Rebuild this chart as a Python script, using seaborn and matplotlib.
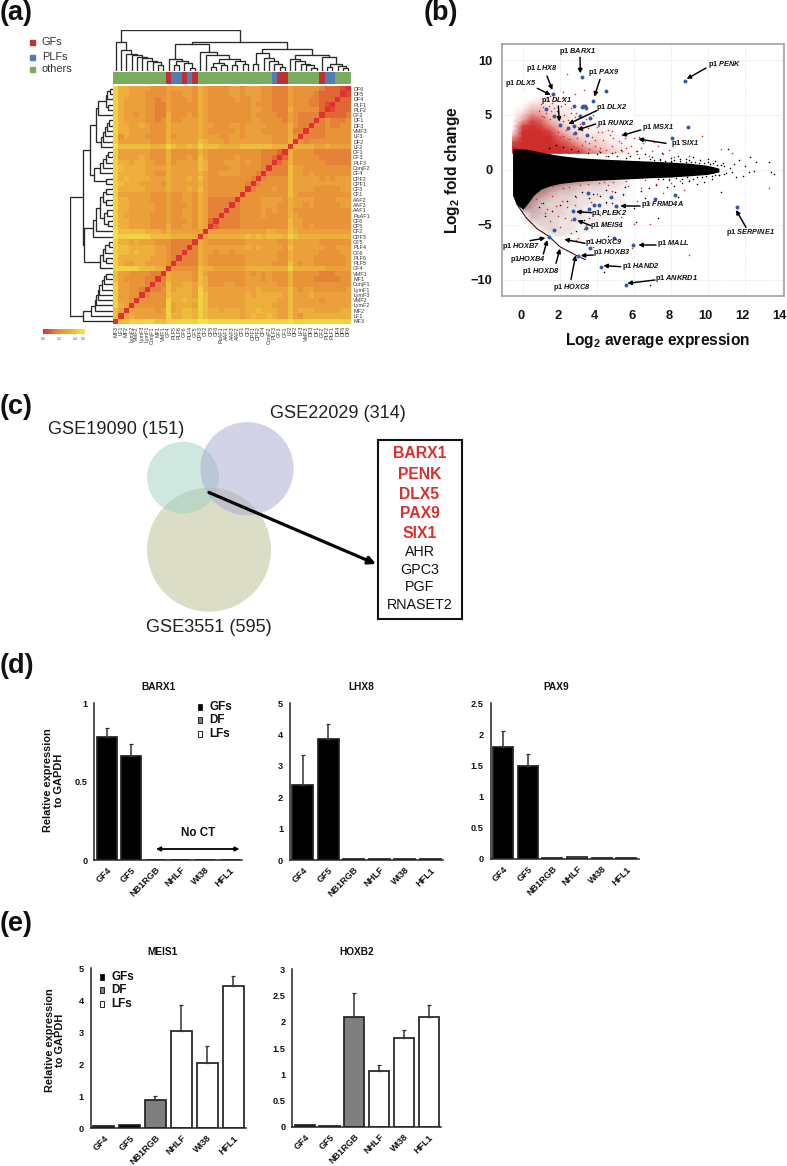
import numpy as np
import pandas as pd
import matplotlib
matplotlib.use('Agg')
import matplotlib.pyplot as plt
from matplotlib.colors import LinearSegmentedColormap, ListedColormap
from matplotlib.patches import Circle, Rectangle
from matplotlib.transforms import ScaledTranslation
import seaborn as sns

sns.set_theme(style='white')
plt.rcParams['font.family'] = ['Liberation Sans', 'DejaVu Sans']
plt.rcParams['mathtext.fontset'] = 'custom'
plt.rcParams['mathtext.bf'] = 'Liberation Sans:bold'
plt.rcParams['mathtext.bfit'] = 'Liberation Sans:italic:bold'
plt.rcParams['mathtext.rm'] = 'Liberation Sans'

W, H = 787, 1166

# ---- panel a data ----
samples = ['MF3', 'LF1', 'MF2', 'LymF2', 'VMF2', 'LymF3', 'LymF1', 'ConjF1', 'MF1', 'VMF1',
           'GF4', 'PLF5', 'PLF6', 'GF6', 'PLF4', 'GF5', 'CPF3', 'CF2', 'CF5', 'CF6', 'PuAF1',
           'AAF1', 'AAF3', 'AAF2', 'CF1', 'CF3', 'CPF1', 'CPF2', 'CF4', 'ConjF2', 'PLF3', 'GF3',
           'GF1', 'LF2', 'DF2', 'LF3', 'VMF3', 'DF3', 'DF1', 'GF2', 'PLF2', 'PLF1', 'DF4', 'DF5', 'DF6']

# upper triangle of the distance heatmap, read as colour levels (0 red .. 9 yellow)
dist_levels = [
    '778888877 888888 99 888888888888 888 9 888888 88888',
    '56555555 866776 87 666666567667 655 7 546666 66666',
    '5555545 856776 87 665666566766 655 7 566655 55566',
    '444444 856665 87 555555566666 555 7 555555 55555',
    '44444 866766 87 555555566666 655 7 555554 55555',
    '3444 766665 87 555555565666 665 7 555655 55555',
    '334 756665 86 555555555655 555 7 545544 44445',
    '33 755665 76 444554455555 544 6 444444 44444',
    '3 655554 76 444444455545 444 6 444433 33344',
    '655554 75 444444454545 444 6 444443 33444',
    '44444 76 655555566666 666 8 666666 55555',
    '3333 65 444444455555 444 7 545544 44445',
    '333 65 444444455555 544 6 555544 44445',
    '33 65 545545555555 544 6 555554 44455',
    '3 65 555555565655 554 7 555555 44555',
    '65 444444455555 544 6 555554 44444',
    '5 666666676767 776 8 766666 66666',
    '555555555556 655 7 655555 55555',
    '23333444444 444 7 554544 44444',
    '3333444444 444 7 554444 44444',
    '333444454 444 6 544444 44444',
    '33444454 544 6 444444 44444',
    '3444455 544 6 554544 44455',
    '444455 554 6 555544 44555',
    '44444 444 7 544444 44444',
    '3444 544 7 555544 44455',
    '344 444 7 555555 55555',
    '34 444 7 555554 54555',
    '3 333 7 554544 44444',
    '333 7 554444 44444',
    '23 6 444444 33333',
    '2 6 444443 33333',
    '6 444433 33333',
    '666655 65555',
    '43444 44444',
    '3333 44444',
    '333 44444',
    '33 43344',
    '3 43334',
    '22223',
    '1222',
    '222',
    '22',
    '1',
]

tree_low = ('29', 'MF3', ('21', 'LF1', ('17.5', 'MF2', ('16.5', 'LymF2', ('14.5', 'VMF2', ('13', 'LymF3',
            ('10.5', 'LymF1', ('9', 'ConjF1', ('6.5', 'MF1', 'VMF1')))))))))
tree_gf = ('12', 'GF4', ('10', ('6.5', 'PLF5', 'PLF6'), ('8', 'GF6', ('3.5', 'PLF4', 'GF5'))))
tree_cf = ('19.3', 'CPF3', ('16', 'CF2', ('12.5', ('8.5', ('4.5', 'CF5', 'CF6'), ('6', 'PuAF1', 'AAF1')),
                                          ('10', ('6.5', 'AAF3', 'AAF2'), ('7', 'CF1', 'CF3')))))
tree_mid = ('17.7', ('7', 'CPF1', 'CPF2'),
            ('12.7', 'CF4', ('10', 'ConjF2', ('7', 'PLF3', ('4.5', 'GF3', 'GF1')))))
tree_df = ('16', ('11.7', 'LF2', ('10', 'DF2', ('7.5', 'LF3', ('6', 'VMF3', ('3.5', 'DF3', 'DF1'))))),
           ('14.5', 'GF2', ('7', ('4.5', 'PLF2', 'PLF1'), ('5.5', 'DF4', ('3', 'DF5', 'DF6')))))
tree = ('41', tree_low, ('29', ('27.3', tree_gf, tree_cf), ('21.7', tree_mid, tree_df)))

# ---- panel b data: envelope of the black band, density of the red cloud, single dots ----
black_x = [-0.55, -0.3, 0, 0.3, 0.6, 1, 1.5, 2, 3, 4, 5, 6, 7, 8, 9, 10, 10.6]
black_top = [1.95, 1.95, 1.9, 1.85, 1.75, 1.6, 1.45, 1.3, 1.1, 1.0, 0.92, 0.85, 0.78, 0.7, 0.6, 0.4, 0.15]
black_bot = [-2.3, -3.2, -3.6, -3.0, -2.3, -1.75, -1.45, -1.25, -1.05, -0.95, -0.88, -0.8, -0.72, -0.66, -0.55, -0.42, -0.2]
floor_x = [-0.5, -0.3, 0, 0.2, 0.76, 1.44, 2, 2.97, 3.4]
floor_y = [-2.3, -3.2, -3.9, -4.4, -5.35, -6.1, -7.0, -7.87, -8.2]

up_x = [-0.55, 0, 0.5, 1, 1.5, 2, 2.5, 3, 3.5, 4, 4.5, 5, 6]
up_y = [7, 6.5, 6, 5.5, 5, 4.5, 4, 3.5, 3, 2.5, 2, 1.5]
up_density = [
    [0, 0, 0, 0, 0, 0, 0, 0, 0, 0, 0, 0, 0],
    [0, 0, 0, 1, 1, 0, 0, 0, 0, 0, 0, 0, 0],
    [0, 0, 2, 2, 1, 1, 0, 0, 0, 0, 0, 0, 0],
    [0, 1, 4, 4, 2, 1, 1, 0, 0, 0, 0, 0, 0],
    [0, 3, 6, 5, 3, 2, 1, 1, 0, 0, 0, 0, 0],
    [0, 5, 8, 7, 4, 3, 1, 1, 1, 0, 0, 0, 0],
    [0, 8, 9, 8, 6, 4, 2, 1, 1, 1, 0, 0, 0],
    [1, 9, 9, 9, 8, 5, 3, 2, 1, 1, 1, 0, 0],
    [5, 9, 9, 9, 9, 7, 5, 3, 2, 2, 1, 1, 0],
    [8, 9, 9, 9, 9, 8, 7, 5, 3, 3, 2, 1, 0],
    [9, 9, 9, 9, 9, 9, 8, 7, 5, 4, 3, 2, 0],
    [9, 9, 9, 9, 9, 9, 9, 9, 7, 6, 4, 3, 0],
]
low_x = [0, 0.5, 1, 1.5, 2, 2.5, 3, 3.5, 4, 4.5, 5, 6]
low_y = [-1, -1.5, -2, -2.5, -3, -3.5, -4, -4.5, -5, -5.5, -6]
low_density = [
    [9, 9, 9, 9, 9, 9, 8, 6, 5, 4, 3, 0],
    [9, 9, 9, 8, 7, 5, 4, 3, 3, 2, 2, 0],
    [9, 9, 8, 6, 4, 4, 3, 2, 2, 2, 1, 0],
    [9, 8, 6, 4, 3, 3, 2, 2, 2, 1, 1, 0],
    [9, 7, 4, 3, 3, 3, 2, 2, 1, 1, 1, 0],
    [9, 6, 4, 3, 3, 2, 2, 1, 1, 1, 1, 0],
    [0, 5, 4, 3, 3, 2, 2, 1, 1, 1, 0, 0],
    [0, 4, 3, 3, 2, 2, 2, 1, 1, 0, 0, 0],
    [0, 1, 3, 3, 2, 2, 1, 1, 1, 0, 0, 0],
    [0, 0, 1, 3, 2, 2, 1, 1, 0, 0, 0, 0],
    [0, 0, 0, 1, 2, 1, 1, 0, 0, 0, 0, 0],
]

red_dots_x = [0.9, 1.0, 1.1, 1.2, 1.3, 1.4, 1.5, 1.6, 1.05, 1.25, 1.55, 1.7, 1.15, 1.45, 1.65, 1.85, 1.95, 2.05, 2.15, 2.25,
              2.35, 2.45, 2.6, 2.7, 2.85, 2.95, 3.1, 3.2, 3.35, 3.5, 3.6, 3.75, 3.9, 4.05, 4.2, 4.35, 4.5, 4.7, 4.85, 5.0,
              5.2, 5.35, 5.5, 5.7, 5.85, 6.0, 6.2, 6.4, 6.6, 6.8, 7.0, 7.3, 7.6, 7.9, 8.2, 8.6, 9.0, 9.7, 10.7, 11.3,
              1.8, 2.1, 2.3, 2.6, 2.9, 3.1, 3.4, 3.7, 4.0, 4.3, 4.6, 4.9, 5.3, 5.6, 6.1, 6.5, 2.2, 2.4, 2.8, 3.3,
              3.8, 4.4, 4.8, 5.5, 6.3, 7.1, 2.2, 3.0, 3.2, 2.5, 1.9, 2.0, 3.6, 4.1, 3.9, 2.7, 13.3, 4.5,
              0.7, 1.0, 1.3, 1.6, 1.9, 2.1, 2.4, 2.6, 2.9, 3.2, 3.4, 3.7, 4.0, 4.2, 4.5, 4.8, 5.1, 5.4, 5.7, 6.0,
              6.4, 6.8, 7.2, 7.6, 8.0, 8.5, 9.0, 1.2, 1.5, 1.8, 2.0, 2.3, 2.6, 2.8, 3.0, 3.3, 3.6, 3.9, 4.3, 4.6,
              5.0, 5.3, 6.2, 6.9, 8.7, 2.2, 2.5, 3.1, 3.5, 4.1, 4.4, 4.9, 5.6, 6.6, 7.9, 1.6, 2.9, 3.8, 5.9, 9.0]
red_dots_y = [5.4, 6.0, 5.7, 6.4, 6.6, 5.8, 6.7, 6.1, 4.9, 5.2, 5.4, 5.6, 4.8, 4.6, 4.9, 5.4, 4.6, 5.8, 4.4, 5.0,
              3.6, 4.5, 5.2, 3.3, 4.8, 2.9, 4.2, 3.6, 2.6, 3.8, 2.4, 3.0, 2.2, 3.4, 2.0, 2.7, 1.8, 3.2, 2.2, 1.6,
              2.6, 1.7, 3.3, 1.5, 2.2, 2.9, 1.4, 2.0, 2.6, 1.3, 1.7, 2.2, 1.4, 1.8, 1.2, 2.7, 1.3, 3.1, 1.9, 1.5,
              6.4, 6.5, 6.0, 5.6, 5.2, 5.0, 4.6, 4.1, 3.9, 3.4, 3.6, 2.9, 2.4, 2.0, 1.7, 2.4, 7.1, 8.7, 6.9, 7.3,
              5.0, 4.3, 3.5, 2.9, 3.0, 2.5, 3.1, 3.9, 2.3, 2.8, 3.4, 3.0, 1.9, 1.7, 2.7, 2.2, -1.7, 1.3,
              -2.7, -3.0, -3.6, -2.4, -4.2, -2.8, -3.4, -4.6, -2.5, -3.8, -5.0, -2.9, -2.2, -4.1, -3.0, -1.9, -3.4, -2.3, -1.5, -4.9,
              -1.7, -3.0, -1.3, -2.1, -1.2, -1.0, -0.9, -3.9, -4.7, -3.3, -5.2, -4.4, -5.8, -3.2, -6.2, -5.4, -4.4, -6.6, -5.0, -1.4,
              -6.3, -4.3, -2.8, -4.9, -1.8, -1.7, -1.6, -1.4, -1.3, -1.2, -1.1, -1.1, -1.0, -0.9, -0.8, -1.5, -6.4, -7.0, -7.1, -7.8]
black_dots_x = [4.2, 4.8, 5.3, 5.8, 6.2, 6.6, 7.0, 7.5, 8.0, 8.4, 8.8, 9.2, 9.6, 10.0, 10.4, 10.8, 11.1, 11.4, 11.7, 12.0, 12.3, 12.6, 13.3, 13.4, 13.6,
                10.2, 10.6, 11.0, 11.5, 11.9, 12.2, 12.5, 9.8, 9.4, 9.0, 8.6, 8.2, 7.8, 7.2, 6.8, 6.4, 5.5, 5.0, 4.5, 3.8,
                10.0, 9.6, 9.0, 8.5, 8.0, 7.4, 6.9, 6.3, 5.6, 5.1, 4.6, 4.0, 3.5, 3.0, 2.6, 2.2, 1.8, 1.4, 1.1, 0.9,
                3.2, 2.8, 2.4, 2.0, 1.6, 1.2, 3.6, 4.2, 4.8, 5.4, 6.0, 6.6, 7.3, 8.4, 4.6, 5.2, 3.3, 2.9, 6.9, 4.4, 6.1, 10.7, 3.6, 4.5,
                7.1, 7.4, 7.7, 8.0, 8.2, 8.5, 8.8, 9.1, 9.3, 9.5, 9.8, 10.1, 10.3, 10.5, 10.7, 10.9, 11.2, 7.3, 7.6, 7.9, 8.3, 8.6, 8.9, 9.2, 9.4, 9.7, 9.9, 10.2, 10.4, 10.6, 10.9, 11.3]
black_dots_y = [1.6, 1.5, 1.8, 1.3, 1.7, 1.4, 1.2, 1.5, 1.1, 1.3, 1.0, 1.2, 0.9, 1.0, 0.8, 0.6, 1.9, 0.5, 0.9, 0.3, 1.2, 0.7, 0.7, -0.2, -0.4,
                -0.8, -0.5, -0.3, -0.7, -0.6, -0.2, -0.1, -1.1, -1.3, -1.0, -1.2, -1.5, -1.6, -1.4, -1.7, -1.9, -1.6, -2.0, -1.8, -2.2,
                0.7, 0.9, 0.85, 1.0, 0.8, 0.95, 1.0, 1.05, 1.1, 1.25, 1.3, 1.4, 1.5, 1.7, 1.9, 2.1, 2.3, 2.0, -3.0, -3.4,
                -2.0, -2.4, -2.8, -3.2, -3.8, -4.2, -2.6, -2.4, -3.0, -2.2, -3.5, -2.6, -4.4, -2.5, -6.0, -4.9, -4.6, -5.6, -10.5, -9.3, -4.8, -2.0, -6.4, -2.9,
                0.85, 0.9, 0.8, 0.75, 0.85, 0.8, 0.75, 0.7, 0.75, 0.6, 0.65, 0.5, 0.6, 0.4, 0.45, 0.3, 0.2, -0.85, -0.8, -0.9, -0.75, -0.85, -0.7, -0.8, -0.65, -0.7, -0.6, -0.6, -0.45, -0.5, -0.35, -0.2]
blue_x = [3.19, 8.77, 1.66, 4.5, 3.78, 2.77, 1.28, 3.25, 3.35, 3.4, 3.2, 1.71, 3.12, 3.62, 2.02, 2.47, 2.76, 3.24, 2.83, 3.48, 8.92, 8.04,
          3.53, 4.79, 7.12, 8.23, 3.87, 4.13, 5.06, 3.59, 2.72, 2.77, 3.42, 1.69, 11.57, 1.44, 4.92, 3.66, 5.96, 2.97, 4.22, 5.57]
blue_y = [8.48, 8.08, 6.87, 7.14, 6.26, 5.8, 5.5, 5.85, 5.8, 5.6, 5.7, 4.92, 4.92, 4.68, 4.07, 3.77, 3.95, 4.22, 3.37, 3.19, 3.92, 2.86,
          -2.1, -2.46, -2.7, -2.31, -3.19, -3.22, -3.31, -3.53, -3.8, -4.53, -5.35, -5.5, -3.4, -6.11, -6.23, -7.11, -6.87, -7.87, -8.84, -10.52]

# gene label, label centre, arrow tail, arrow head (positions in 3x crop pixels of panel b)
gene_notes = [
    ('p1 ', 'BARX1', (472, 155), (480, 172), (481, 220)), ('p1 ', 'LHX8', (366, 204), (381, 228), (397, 270)),
    ('p1 ', 'PAX9', (552, 218), (540, 238), (523, 290)), ('p1 ', 'DLX5', (302, 251), (352, 265), (392, 285)),
    ('p1 ', 'DLX1', (411, 303), (415, 318), (418, 365)), ('p1 ', 'DLX2', (575, 323), (530, 332), (445, 372)),
    ('p1 ', 'RUNX2', (587, 371), (527, 372), (472, 390)), ('p1 ', 'MSX1', (714, 383), (662, 390), (604, 407)),
    ('p1 ', 'SIX1', (796, 431), (738, 430), (655, 417)), ('p1 ', 'PENK', (913, 194), (858, 204), (800, 237)),
    ('p1 ', 'FRMD4A', (728, 613), (660, 618), (601, 618)), ('p1 ', 'PLEK2', (569, 640), (515, 638), (468, 635)),
    ('p1 ', 'MEIS1', (563, 677), (513, 677), (472, 661)), ('p1 ', 'SERPINE1', (991, 698), (978, 682), (948, 630)),
    ('p1 ', 'HOXB7', (305, 741), (330, 722), (376, 714)), ('p1 ', 'HOXC9', (553, 727), (495, 730), (433, 718)),
    ('p1 ', 'MALL', (760, 731), (708, 735), (655, 735)), ('p1', 'HOXB4', (325, 778), (370, 762), (382, 720)),
    ('p1 ', 'HOXB3', (576, 759), (520, 765), (482, 767)), ('p1 ', 'HOXD8', (364, 814), (408, 790), (420, 746)),
    ('p1 ', 'HAND2', (664, 799), (602, 800), (550, 797)), ('p1 ', 'HOXC8', (456, 862), (453, 838), (467, 766)),
    ('p1 ', 'ANKRD1', (770, 836), (705, 840), (622, 850)),
]

# ---- panel c data ----
overlap_genes = ['BARX1', 'PENK', 'DLX5', 'PAX9', 'SIX1', 'AHR', 'GPC3', 'PGF', 'RNASET2']
overlap_red = 5

# ---- panels d, e data ----
lines = ['GF4', 'GF5', 'NB1RGB', 'NHLF', 'WI38', 'HFL1']
line_colors = ['#000000', '#000000', '#7f7f80', '#ffffff', '#ffffff', '#ffffff']
barx1_vals = [0.785, 0.665, 0, 0, 0, 0]
barx1_tops = [0.845, 0.74, 0, 0, 0, 0]
lhx8_vals = [2.4, 3.85, 0.03, 0.03, 0.02, 0.02]
lhx8_tops = [3.35, 4.35, 0, 0, 0, 0]
pax9_vals = [1.8, 1.5, 0.02, 0.03, 0.02, 0.02]
pax9_tops = [2.05, 1.68, 0, 0, 0, 0]
meis1_vals = [0.06, 0.08, 0.87, 3.05, 2.05, 4.45]
meis1_tops = [0, 0, 1.0, 3.85, 2.58, 4.75]
hoxb2_vals = [0.03, 0.02, 2.1, 1.06, 1.7, 2.1]
hoxb2_tops = [0, 0, 2.55, 1.17, 1.85, 2.32]

fig = plt.figure(figsize=(W / 100, H / 100), dpi=100)


def px_axes(left, top, right, bottom):
    return fig.add_axes([left / W, 1 - bottom / H, (right - left) / W, (bottom - top) / H])


# overlay in pixel coordinates for panel letters, notes and the venn diagram
ov = px_axes(0, 0, W, H)
ov.set_xlim(0, W)
ov.set_ylim(H, 0)
ov.axis('off')
ov.set_zorder(10)
ov.patch.set_alpha(0)

for letter, lx, ly in [('(a)', 0, 13), ('(b)', 424, 13), ('(c)', 0, 407), ('(d)', 0, 666), ('(e)', 0, 924)]:
    ov.text(lx, ly, letter, fontsize=19.5, fontweight='bold', va='center', ha='left', color='#111111')

# ---- panel a ----
level_colors = ['#de3230', '#de4a30', '#e26a34', '#e68539', '#ea9639', '#eca33b', '#edb23d', '#efc23f', '#f0da45', '#f2ea4b']
dist_cmap = LinearSegmentedColormap.from_list('dist', level_colors)
dist = np.zeros((45, 45))
for i, row in enumerate(dist_levels):
    vals = [int(c) for c in row.replace(' ', '')]
    assert len(vals) == 44 - i, (i, len(vals))
    dist[i, i + 1:] = vals
dist = (dist + dist.T) * 0.055

hm = px_axes(113, 86, 351, 324)
cb = px_axes(43, 329, 85, 334)
sns.heatmap(pd.DataFrame(dist[::-1], index=samples[::-1], columns=samples), ax=hm, cmap=dist_cmap, vmin=0, vmax=0.52,
            cbar_ax=cb, cbar_kws={'orientation': 'horizontal', 'ticks': [0, 0.2, 0.4, 0.5]},
            xticklabels=True, yticklabels=True)
hm.yaxis.tick_right()
hm.tick_params(axis='both', length=0, pad=1.5, labelsize=3.9, labelcolor='#333333')
hm.tick_params(axis='y', labelrotation=0)
hm.tick_params(axis='x', labelrotation=90)
hm.set_xlabel('')
hm.set_ylabel('')
cb.tick_params(length=1, width=0.3, labelsize=2.6, pad=0.8, color='#555555', labelcolor='#555555')

group_colors = ['#78ac5f', '#bf3131', '#537db4']
group_codes = [1 if s.startswith('GF') else 2 if s.startswith('PLF') else 0 for s in samples]
strip = px_axes(113, 72, 351, 84)
sns.heatmap(np.array([group_codes]), ax=strip, cmap=ListedColormap(group_colors), vmin=0, vmax=2, cbar=False,
            xticklabels=False, yticklabels=False)

leaf_pos = {s: i + 0.5 for i, s in enumerate(samples)}
dend_top = px_axes(113, 30, 351, 71)
dend_top.set_xlim(0, 45)
dend_top.set_ylim(0, 41)
dend_top.axis('off')
dend_left = px_axes(70, 86, 113, 324)
dend_left.set_xlim(41, 0)
dend_left.set_ylim(0, 45)
dend_left.axis('off')


def draw_tree(node):
    if isinstance(node, str):
        return leaf_pos[node], 0
    height = float(node[0])
    x1, h1 = draw_tree(node[1])
    x2, h2 = draw_tree(node[2])
    dend_top.plot([x1, x1, x2, x2], [h1, height, height, h2], color='#2a2a2a', lw=0.95, solid_joinstyle='miter')
    dend_left.plot([h1, height, height, h2], [x1, x1, x2, x2], color='#2a2a2a', lw=0.95, solid_joinstyle='miter')
    return (x1 + x2) / 2, height


draw_tree(tree)

for name, color, ly, lx in [('GFs', group_colors[1], 42, 42), ('PLFs', group_colors[2], 57, 42), ('others', group_colors[0], 69, 41)]:
    ov.add_patch(Rectangle((29.5, ly - 2.5), 5, 5, color=color))
    ov.text(lx, ly, name, fontsize=7.9, va='center', color='#333333')

# ---- panel b ----
ma = px_axes(502, 44, 783.5, 296)
ma.grid(True, color='#d9d9d9', lw=0.6, ls=':')
ma.set_axisbelow(True)
red_fade = LinearSegmentedColormap.from_list('red_fade', ['#ffffff', '#f0b5b0', '#cf2f2c'])
dark_fade = LinearSegmentedColormap.from_list('dark_fade', ['#ffffff', '#7a2422'])
ma.pcolormesh(up_x, up_y, np.array(up_density), cmap=red_fade, vmin=0, vmax=9, shading='gouraud', zorder=1.2)
ma.pcolormesh(low_x, low_y, np.array(low_density), cmap=dark_fade, vmin=0, vmax=14, shading='gouraud', zorder=1.2)
ma.fill_between(black_x, black_bot, black_top, color='black', lw=0, zorder=1.5)
ma.plot(floor_x, floor_y, color='black', lw=0.7, zorder=1.4)
ma.plot(floor_x, floor_y, color='#cf2f2c', lw=0.5, ls=(0, (2, 3)), zorder=1.45)
sns.scatterplot(x=black_dots_x, y=black_dots_y, color='black', s=1.2, linewidth=0, ax=ma, zorder=1.6)
sns.scatterplot(x=red_dots_x, y=red_dots_y, color='#d8322e', s=1.3, linewidth=0, ax=ma, zorder=1.7)
sns.scatterplot(x=blue_x, y=blue_y, color='#3559a8', s=8, linewidth=0, ax=ma, zorder=2)
ma.set_xlim(-1.12, 14.09)
ma.set_ylim(-11.5, 11.46)
ma.set_xticks(range(0, 15, 2))
ma.set_yticks([-10, -5, 0, 5, 10])
ma.tick_params(axis='both', length=4.5, width=0.9, color='#555555', labelsize=9.3, pad=2.5, labelcolor='#111111')
ma.tick_params(axis='x', pad=5.5)
shift_left = ScaledTranslation(-2 / 100, 0, fig.dpi_scale_trans)
for lab in ma.get_xticklabels():
    lab.set_fontweight('bold')
    lab.set_transform(lab.get_transform() + shift_left)
for lab in ma.get_yticklabels():
    lab.set_fontweight('bold')
for sp in ma.spines.values():
    sp.set_color('#9a9a9a')
    sp.set_linewidth(1.1)
ov.text(453, 170, r'Log$_{\mathbf{2}}$ fold change', fontsize=11.2, fontweight='bold', rotation=90, ha='center', va='center', color='#111111')
ov.text(658, 340, r'Log$_{\mathbf{2}}$ average expression', fontsize=11.2, fontweight='bold', ha='center', va='center', color='#111111')


def crop_b(p):
    return 420 + p[0] / 3, p[1] / 3


for pre, gene, where, tail, head in gene_notes:
    lx, ly = crop_b(where)
    ov.text(lx, ly, pre + r'$\bfit{' + gene + '}$', fontsize=5.3, fontweight='bold', ha='center', va='center', color='#111111')
    ov.annotate('', xy=crop_b(head), xytext=crop_b(tail),
                arrowprops=dict(arrowstyle='-|>', color='black', lw=1.05, mutation_scale=6, shrinkA=0, shrinkB=0))

# ---- panel c ----
ov.add_patch(Circle((209, 549.7), 62, facecolor='#b9bd91', alpha=0.5, lw=0))
ov.add_patch(Circle((183, 477.7), 36, facecolor='#a1d1c1', alpha=0.5, lw=0))
ov.add_patch(Circle((247, 468.7), 46.6, facecolor='#a9a9d1', alpha=0.5, lw=0))
for label, lx, ly in [('GSE19090 (151)', 115.7, 430), ('GSE22029 (314)', 338, 413), ('GSE3551 (595)', 209, 627.7)]:
    ov.text(lx, ly, label, fontsize=13.1, ha='center', va='center', color='#222222')
ov.annotate('', xy=(376, 564), xytext=(209, 492.5),
            arrowprops=dict(arrowstyle='-|>', color='black', lw=2.3, mutation_scale=11, shrinkA=0, shrinkB=0))
ov.add_patch(Rectangle((378, 440), 84.3, 178.7, facecolor='white', edgecolor='#111111', lw=1.5))
gene_y = [454, 474.3, 494.3, 513.7, 533.3, 552.3, 569.7, 587, 604.7]
for i, (gene, ly) in enumerate(zip(overlap_genes, gene_y)):
    if i < overlap_red:
        ov.text(419.5, ly, gene, fontsize=11.3, fontweight='bold', ha='center', va='center', color='#d8312f')
    else:
        ov.text(419.5, ly, gene, fontsize=10.3, ha='center', va='center', color='#111111')


# ---- panels d and e ----
def expr_bars(box, title, title_xy, vals, tops, ticks, tick_labels):
    ax = px_axes(*box)
    sns.barplot(x=lines, y=vals, hue=lines, palette=dict(zip(lines, line_colors)), legend=False, width=0.81,
                edgecolor='#222222', linewidth=1.25, ax=ax)
    has_err = [i for i, t in enumerate(tops) if t > 0]
    ax.errorbar(has_err, [vals[i] for i in has_err],
                yerr=[[0] * len(has_err), [tops[i] - vals[i] for i in has_err]],
                fmt='none', ecolor='#333333', elinewidth=1.1, capsize=1.5, capthick=0.9)
    ax.set_xlim(-0.5, 5.5)
    ax.set_ylim(ticks[0], ticks[-1])
    ax.set_yticks(ticks)
    ax.set_yticklabels(tick_labels, fontsize=6.6, fontweight='bold', color='#111111')
    ax.set_xticks(range(6))
    ax.set_xticklabels(lines, rotation=45, ha='right', rotation_mode='anchor', fontsize=6.5, fontweight='bold', color='#111111')
    ax.tick_params(axis='both', length=0, pad=5)
    ax.tick_params(axis='x', pad=4)
    ax.patch.set_alpha(0)
    sns.despine(ax=ax)
    for side in ('left', 'bottom'):
        ax.spines[side].set_color('#222222')
        ax.spines[side].set_linewidth(1.1)
    ov.text(title_xy[0], title_xy[1], title, fontsize=7.3, fontweight='bold', ha='center', va='center', color='#111111')
    return ax


def bar_key(sx, tx, ys):
    for name, color, ly in zip(['GFs', 'DF', 'LFs'], ['#000000', '#7f7f80', '#ffffff'], ys):
        ov.add_patch(Rectangle((sx - 2, ly - 3), 4.2, 6, facecolor=color, edgecolor='#222222', lw=0.7))
        ov.text(tx, ly, name, fontsize=8.5, fontweight='bold', va='center', color='#111111')


expr_bars((94.3, 703.3, 242, 860), 'BARX1', (158.7, 687), barx1_vals, barx1_tops, [0, 0.5, 1], ['0', '0.5', '1'])
expr_bars((290, 703.3, 443, 860), 'LHX8', (361.7, 687), lhx8_vals, lhx8_tops, [0, 1, 2, 3, 4, 5], ['0', '1', '2', '3', '4', '5'])
expr_bars((490.7, 703.3, 638.7, 859), 'PAX9', (556, 687), pax9_vals, pax9_tops, [0, 0.5, 1, 1.5, 2, 2.5], ['0', '0.5', '1', '1.5', '2', '2.5'])
expr_bars((90.7, 968.3, 246, 1128), 'MEIS1', (163, 952), meis1_vals, meis1_tops, [0, 1, 2, 3, 4, 5], ['0', '1', '2', '3', '4', '5'])
expr_bars((292.3, 969.3, 441, 1127), 'HOXB2', (357, 952), hoxb2_vals, hoxb2_tops, [0, 0.5, 1, 1.5, 2, 2.5, 3], ['0', '0.5', '1', '1.5', '2', '2.5', '3'])

bar_key(200, 209, [707, 720, 733.7])
bar_key(102, 111, [977, 990.3, 1004])

ov.text(198, 832.7, 'No CT', fontsize=8.4, fontweight='bold', ha='center', va='center', color='#111111')
ov.annotate('', xy=(156, 849), xytext=(239.5, 849),
            arrowprops=dict(arrowstyle='<|-|>', color='black', lw=1.3, mutation_scale=6, shrinkA=0, shrinkB=0))
for ly, lx in [(780, 53.5), (1040, 55)]:
    ov.text(lx, ly, 'Relative expression\nto GAPDH', fontsize=7.9, fontweight='bold', rotation=90, ha='center', va='center',
            linespacing=1.05, color='#111111', multialignment='center')

fig.savefig('out.png', dpi=100)
